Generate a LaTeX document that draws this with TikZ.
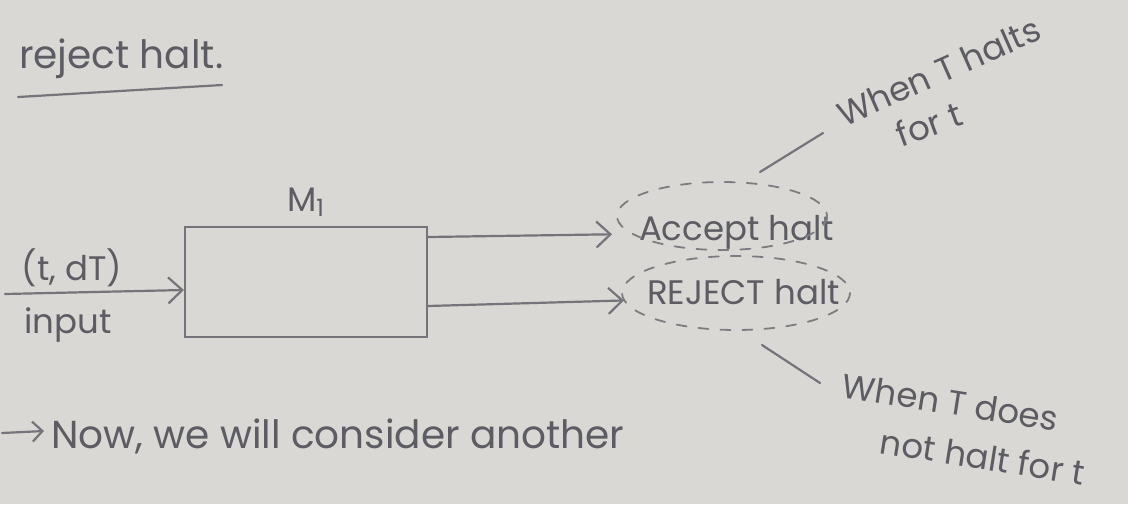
\documentclass[tikz,border=0pt]{standalone}
\usepackage{fontspec}
\setmainfont{Poppins}
\usepackage{tikz}
\usetikzlibrary{positioning, arrows.meta}

\definecolor{paper}{HTML}{D9D8D5}
\definecolor{pencil}{HTML}{5C5C62}

\tikzset{
  ink/.style={color=pencil, font=\fontsize{17}{20}\selectfont},
  big ink/.style={ink, font=\fontsize{19.5}{23}\selectfont},
  wire/.style={draw=pencil!85, line width=1.1pt},
  barb/.style={-{Straight Barb[length=7pt, width=13pt]}},
  halt/.style={draw=pencil!80, dashed, dash pattern=on 5pt off 6pt, line width=0.9pt}
}

\begin{document}
\begin{tikzpicture}[x=0.5pt, y=-0.5pt, line cap=round]
                \fill [paper] (0, 0) rectangle (1128, 504);
                \useasboundingbox (0, 0) rectangle (1128, 504);

                % heading
                \node [big ink, anchor=base west] (rej) at (12, 68) {reject halt.};
                \draw [wire] (18, 97) -- (222, 85);

                % the machine
                \node [wire, minimum width=121pt, minimum height=55pt] (m1) at (306, 282) {};
                \node [ink, above=1pt of m1.north] (m1lab) {M\textsubscript{1}};

                % input side
                \coordinate (in) at (5, 294);
                \draw [wire, barb] (in) -- (m1.west |- 0, 290);
                \node [ink, anchor=base] (tdt) at (72, 280) {(t, dT)};
                \node [ink, anchor=base] (inp) at (68, 333) {input};

                % the two outcomes
                \node [ink, anchor=base west] (acc) at (632, 240) {Accept halt};
                \node [ink, anchor=base west] (rjt) at (640, 304) {REJECT halt};
                \draw [wire, barb, shorten >=10pt] (m1.east |- 0, 237) -- (acc.west |- 0, 234);
                \draw [wire, barb, shorten >=8pt] (m1.east |- 0, 306) -- (rjt.west |- 0, 300);
                \draw [halt] (722, 216) ellipse (105 and 34);
                \draw [halt] (736, 293) ellipse (114 and 37);

                % notes on the right
                \node [ink, anchor=base west, rotate=24] (yes1) at (838, 130) {When T halts};
                \node [ink, anchor=base west, rotate=20] (yes2) at (895, 150) {for t};
                \coordinate (yes) at (760, 172);
                \draw [wire] (yes) -- (823, 133);

                \node [ink, anchor=base west, rotate=-9] (no1) at (834, 396) {When T does};
                \node [ink, anchor=base west, rotate=-9] (no2) at (872, 452) {not halt for t};
                \coordinate (no) at (762, 345);
                \draw [wire] (no) -- (820, 383);

                % next paragraph
                \node [big ink, anchor=base west] (next) at (44, 448) {Now, we will consider another};
                \coordinate (nx) at (2, 433);
                \draw [wire, -{Straight Barb[length=5pt, width=10pt]}] (nx) -- (next.west |- 0, 431);
\end{tikzpicture}
\end{document}
